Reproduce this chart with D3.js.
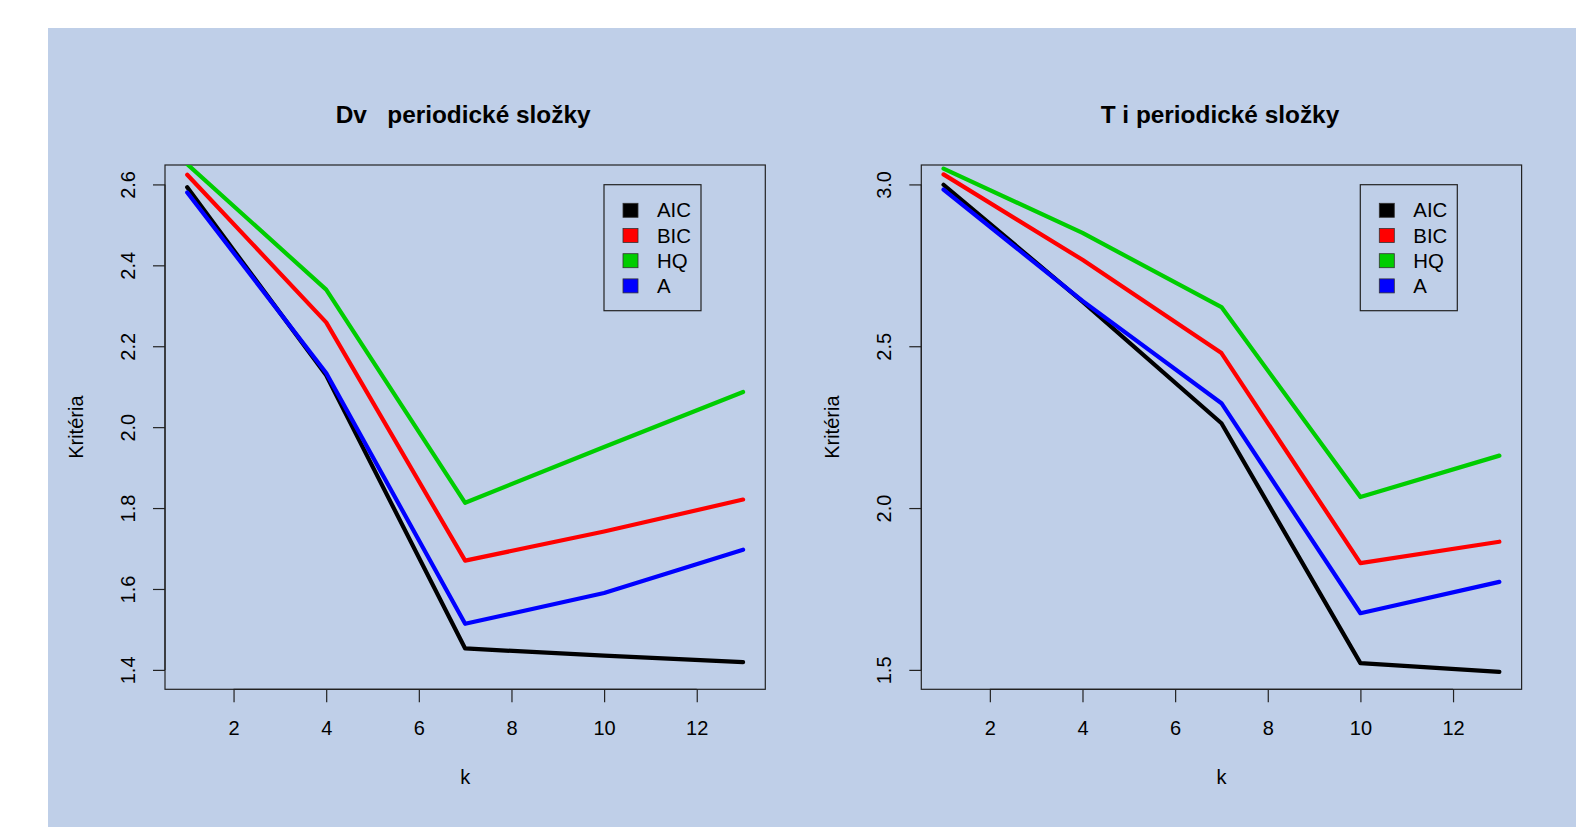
<!DOCTYPE html>
<html>
<head>
<meta charset="utf-8">
<script src="https://cdn.jsdelivr.net/npm/d3@7"></script>
<style>
  html, body { margin: 0; padding: 0; background: #ffffff; }
  svg { display: block; font-family: "Liberation Sans", Arial, Helvetica, sans-serif; }
</style>
</head>
<body>
<svg id="chart" width="1576" height="827"></svg>
<script>
// ---- data ----
const kValues = [1, 4, 7, 10, 13];
const seriesNames = ["AIC", "BIC", "HQ", "A"];
const seriesColors = ["#000000", "#ff0000", "#00cd00", "#0000ff"];
const titles = ["Dv   periodické složky", "T i periodické složky"];
const xTicks = [2, 4, 6, 8, 10, 12];
const yTicksLeft = [1.4, 1.6, 1.8, 2.0, 2.2, 2.4, 2.6];
const yTicksRight = [1.5, 2.0, 2.5, 3.0];
const yLimLeft = [1.4, 2.6];
const yLimRight = [1.5, 3.0];

// left panel ("Dv   periodické složky")
const leftAIC = [2.593, 2.128, 1.453, 1.435, 1.419];
const leftBIC = [2.624, 2.259, 1.670, 1.742, 1.821];
const leftHQ  = [2.650, 2.340, 1.813, 1.951, 2.087];
const leftA   = [2.580, 2.134, 1.514, 1.590, 1.697];

// right panel ("T i periodické složky")
const rightAIC = [2.999, 2.638, 2.262, 1.521, 1.494];
const rightBIC = [3.031, 2.767, 2.479, 1.830, 1.896];
const rightHQ  = [3.049, 2.850, 2.621, 2.034, 2.162];
const rightA   = [2.984, 2.640, 2.324, 1.675, 1.772];

// ---- layout ----
const svg = d3.select("#chart");
svg.append("rect").attr("x", 48).attr("y", 28).attr("width", 1576 - 48).attr("height", 827 - 28)
  .attr("fill", "#bfcfe8");

const panels = [
  { left: 165, title: titles[0], titleShift: -2, yLim: yLimLeft, yTicks: yTicksLeft, series: [leftAIC, leftBIC, leftHQ, leftA] },
  { left: 921.3, title: titles[1], titleShift: -1.5, yLim: yLimRight, yTicks: yTicksRight, series: [rightAIC, rightBIC, rightHQ, rightA] }
];
const boxW = 600.3, boxTop = 165, boxBottom = 689.3;
const axisColor = "#222222";

function expand(lim) {
  const d = (lim[1] - lim[0]) * 0.04;
  return [lim[0] - d, lim[1] + d];
}

panels.forEach((p, pi) => {
  const xDom = expand([d3.min(kValues), d3.max(kValues)]);
  const x = d3.scaleLinear().domain(xDom).range([p.left, p.left + boxW]);
  const y = d3.scaleLinear().domain(expand(p.yLim)).range([boxBottom, boxTop]);
  const g = svg.append("g");

  // clip
  const clipId = "clip" + pi;
  svg.append("clipPath").attr("id", clipId).append("rect")
    .attr("x", p.left).attr("y", boxTop).attr("width", boxW).attr("height", boxBottom - boxTop);

  // title
  g.append("text").attr("x", p.left + boxW / 2 + p.titleShift).attr("y", 123)
    .attr("text-anchor", "middle").attr("font-size", 24.4).attr("font-weight", "bold")
    .style("white-space", "pre").attr("xml:space", "preserve")
    .text(p.title);

  // x axis
  const xAxis = d3.axisBottom(x).tickValues(xTicks).tickSize(13).tickPadding(0).tickFormat(d3.format("d"));
  const xg = g.append("g").attr("transform", `translate(0,${boxBottom})`).call(xAxis);
  xg.select(".domain").attr("d", `M${x(xTicks[0])},0H${x(xTicks[xTicks.length - 1])}`).attr("stroke", axisColor).attr("stroke-width", 1.2);
  xg.selectAll(".tick line").attr("stroke", axisColor).attr("stroke-width", 1.2);
  xg.selectAll(".tick text").attr("font-size", 20).attr("fill", "#000").attr("dy", null).attr("y", 46)
    .style("font-family", "'Liberation Sans', Arial, sans-serif");

  // y axis
  const yAxis = d3.axisLeft(y).tickValues(p.yTicks).tickSize(12).tickFormat(d3.format(".1f"));
  const yg = g.append("g").attr("transform", `translate(${p.left},0)`).call(yAxis);
  yg.select(".domain").attr("d", `M0,${y(p.yTicks[0])}V${y(p.yTicks[p.yTicks.length - 1])}`).attr("stroke", axisColor).attr("stroke-width", 1.2);
  yg.selectAll(".tick line").attr("stroke", axisColor).attr("stroke-width", 1.2);
  yg.selectAll(".tick text").attr("font-size", 20).attr("fill", "#000")
    .attr("x", null).attr("dy", null).attr("text-anchor", "middle")
    .attr("transform", "translate(-30,0) rotate(-90)")
    .style("font-family", "'Liberation Sans', Arial, sans-serif");

  // box
  g.append("rect").attr("x", p.left).attr("y", boxTop).attr("width", boxW).attr("height", boxBottom - boxTop)
    .attr("fill", "none").attr("stroke", axisColor).attr("stroke-width", 1.2);

  // axis labels
  g.append("text").attr("x", p.left + boxW / 2).attr("y", 784).attr("text-anchor", "middle")
    .attr("font-size", 20).text("k");
  g.append("text").attr("transform", `translate(${p.left - 82},${(boxTop + boxBottom) / 2}) rotate(-90)`)
    .attr("text-anchor", "middle").attr("font-size", 20).text("Kritéria");

  // lines
  const line = d3.line().x((d, i) => x(kValues[i])).y(d => y(d));
  const lg = g.append("g").attr("clip-path", `url(#${clipId})`);
  p.series.forEach((s, si) => {
    lg.append("path").datum(s).attr("d", line).attr("fill", "none")
      .attr("stroke", seriesColors[si]).attr("stroke-width", 4.2)
      .attr("stroke-linejoin", "round").attr("stroke-linecap", "round");
  });

  // legend
  const lx = p.left + 439, ly = 184.7, lw = 97, lh = 126;
  const leg = g.append("g");
  leg.append("rect").attr("x", lx).attr("y", ly).attr("width", lw).attr("height", lh)
    .attr("fill", "none").attr("stroke", axisColor).attr("stroke-width", 1.2);
  seriesNames.forEach((n, i) => {
    const cy = 210.3 + i * 25.2;
    leg.append("rect").attr("x", lx + 19).attr("y", cy - 7).attr("width", 15).attr("height", 14)
      .attr("fill", seriesColors[i]).attr("stroke", "#333").attr("stroke-width", 0.8);
    leg.append("text").attr("x", lx + 53).attr("y", cy + 7).attr("font-size", 20.4).text(n);
  });
});
</script>
</body>
</html>
